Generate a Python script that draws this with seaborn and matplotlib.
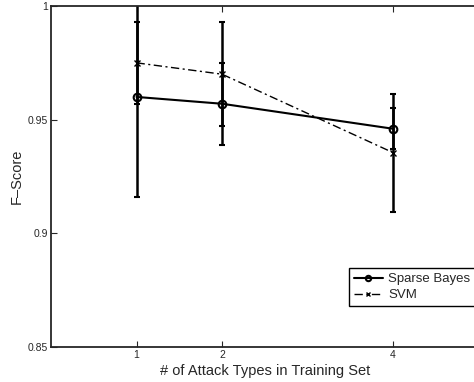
import matplotlib
matplotlib.use("Agg")
import numpy as np
import pandas as pd
import seaborn as sns
import matplotlib.pyplot as plt

# values
attack_types = [1, 2, 4]
sb_mean = [0.960, 0.957, 0.946]
sb_err = [0.044, 0.018, 0.009]
svm_mean = [0.975, 0.970, 0.9355]
svm_err = [0.018, 0.023, 0.026]
series = ["Sparse Bayes", "SVM"]
y_ticks = [0.85, 0.9, 0.95, 1.0]
y_tick_labels = ["0.85", "0.9", "0.95", "1"]

sb = pd.DataFrame({"types": attack_types, "score": sb_mean})
svm = pd.DataFrame({"types": attack_types, "score": svm_mean})

sns.set_style("ticks")
plt.rcParams["font.family"] = ["Liberation Sans", "DejaVu Sans"]

fig = plt.figure(figsize=(4.74, 3.82), dpi=100)
ax = fig.add_axes([51 / 474, 35 / 382, (478.6 - 51) / 474, 341 / 382])

sns.lineplot(data=sb, x="types", y="score", color="k", linewidth=1.5,
             marker="o", markersize=5.5, markerfacecolor="none",
             markeredgecolor="k", markeredgewidth=1.5, ax=ax)
sns.lineplot(data=svm, x="types", y="score", color="k", linewidth=1.0,
             linestyle=(0, (6, 2.5, 1.5, 2.5)), marker="x", markersize=4,
             markeredgecolor="k", markeredgewidth=1.0, ax=ax)
lines = ax.lines[:2]

ax.errorbar(attack_types, sb_mean, yerr=sb_err, fmt="none", ecolor="k",
            elinewidth=1.8, capsize=2.5, capthick=1.5)
ax.errorbar(attack_types, svm_mean, yerr=svm_err, fmt="none", ecolor="k",
            elinewidth=1.8, capsize=2.5, capthick=1.5)

ax.set_xlim(0, 5)
ax.set_ylim(0.85, 1.0)
ax.set_xticks(attack_types)
ax.set_xticklabels([str(t) for t in attack_types])
ax.set_yticks(y_ticks)
ax.set_yticklabels(y_tick_labels)
ax.tick_params(direction="in", top=True, right=False, length=4, width=0.8,
               labelsize=7.5, pad=2)
for s in ax.spines.values():
    s.set_linewidth(1.3)

ax.set_xlabel("# of Attack Types in Training Set", fontsize=10.5, labelpad=3)
ax.set_ylabel("F–Score", fontsize=10.5, labelpad=3)

ax.legend(lines, series, loc="lower left", bbox_to_anchor=(0.697, 0.12),
          borderaxespad=0, fontsize=9.5, frameon=True, fancybox=False,
          edgecolor="k", framealpha=1, handlelength=2.2, handletextpad=0.4,
          borderpad=0.35, labelspacing=0.3, markerscale=0.7)
ax.get_legend().get_frame().set_linewidth(1.0)

fig.savefig("out.png", dpi=100)
